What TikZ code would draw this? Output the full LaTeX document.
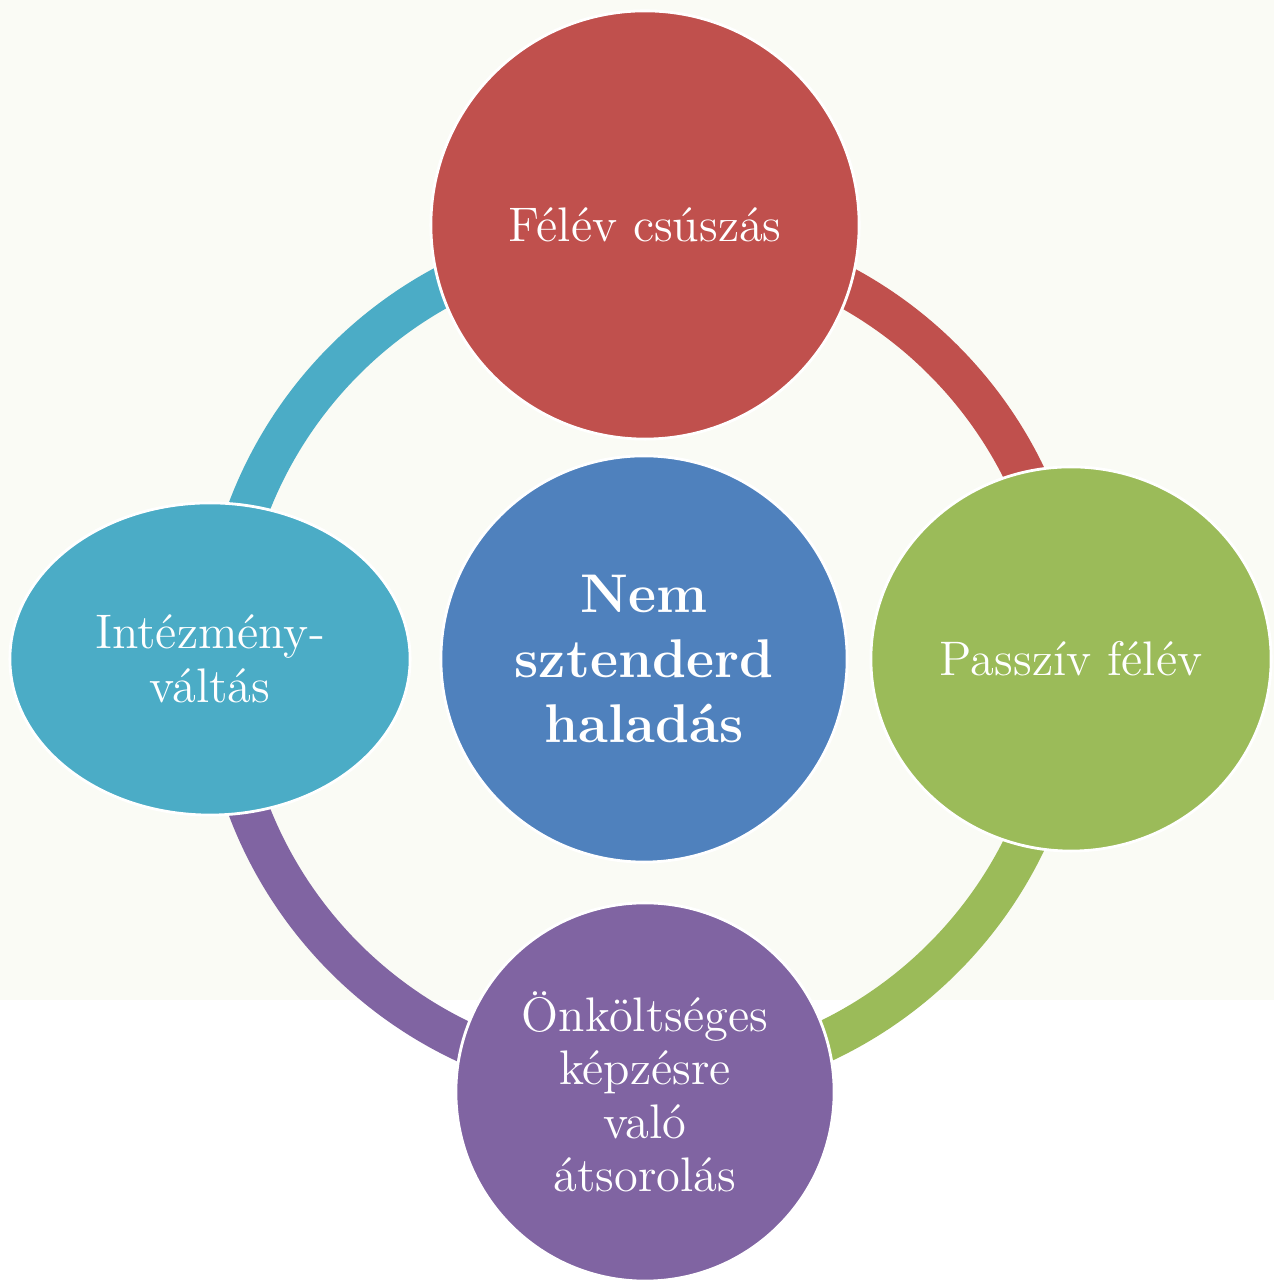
\documentclass[tikz,border=0pt]{standalone}
\usetikzlibrary{shapes.geometric}
\definecolor{bgcream}{HTML}{FAFBF5}
\definecolor{cred}{HTML}{C0504D}
\definecolor{cblue}{HTML}{4F81BD}
\definecolor{cgreen}{HTML}{9BBB59}
\definecolor{cpurple}{HTML}{8064A2}
\definecolor{ccyan}{HTML}{4BACC6}
\tikzset{
  ringarc/.style={line width=0.41cm},
  bubble/.style={draw=white, line width=0.8pt, text=white, inner sep=0pt, align=center,
     font=\fontsize{13.8}{15.2}\selectfont},
  hub/.style={circle, fill=cblue, draw=white, line width=0.8pt, text=white, inner sep=0pt, align=center,
     minimum size=4.06cm, font=\fontsize{15.5}{18.5}\selectfont\bfseries},
}
\begin{document}
\begin{tikzpicture}[x=0.01cm,y=0.01cm]
\useasboundingbox (0,0) rectangle (1274,1283);
\fill[bgcream] (0,283) rectangle (1274,1283);
\coordinate (o) at (644,624);
% ring arcs
\draw[ringarc, ccyan]   ([shift={(180:423)}]o) arc[start angle=180, end angle=90, radius=423];
\draw[ringarc, cred]    ([shift={(90:423)}]o) arc[start angle=90, end angle=0, radius=423];
\draw[ringarc, cgreen]  ([shift={(0:423)}]o) arc[start angle=0, end angle=-90, radius=423];
\draw[ringarc, cpurple] ([shift={(-90:423)}]o) arc[start angle=-90, end angle=-180, radius=423];
% nodes
\node[bubble, circle, fill=cred, minimum size=4.28cm] (top) at (645,1058) {Félév csúszás};
\node[bubble, ellipse, fill=cgreen, minimum width=4.0cm, minimum height=3.84cm] (right) at (1071,624) {Passzív félév};
\node[bubble, circle, fill=cpurple, minimum size=3.78cm] (bottom) at (645,191) {Önköltséges\\képzésre\\való\\átsorolás};
\node[bubble, ellipse, fill=ccyan, minimum width=4.0cm, minimum height=3.12cm] (left) at (210,624) {Intézmény-\\váltás};
\node[hub] (hub) at (644,624) {Nem\\sztenderd\\haladás};
\end{tikzpicture}
\end{document}
